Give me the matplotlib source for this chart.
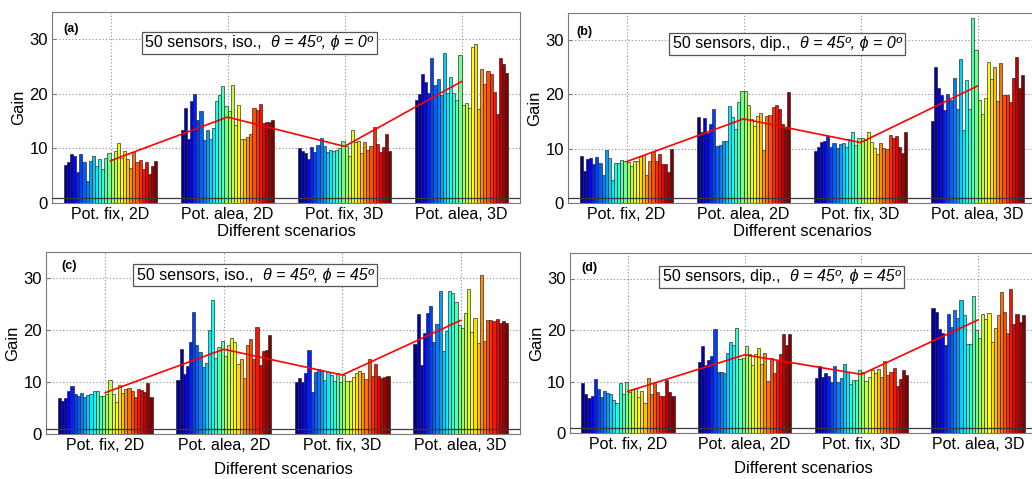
import numpy as np
import matplotlib
matplotlib.use("Agg")
import matplotlib.pyplot as plt
from matplotlib.offsetbox import TextArea, HPacker, AnchoredOffsetbox

plt.rcParams['font.family'] = ['Liberation Sans', 'DejaVu Sans']

categories = ["Pot. fix, 2D", "Pot. alea, 2D", "Pot. fix, 3D", "Pot. alea, 3D"]

# Panel (a)
a_fix2d = [7.0, 7.5, 9.0, 8.6, 5.6, 9.0, 7.6, 4.0, 7.7, 8.7, 6.7, 8.0, 6.3, 8.3, 9.1, 8.0, 9.5, 11.0, 8.2, 9.6, 8.1, 6.5, 9.3, 7.5, 7.8, 6.2, 7.6, 5.4, 6.8, 7.7]
a_alea2d = [13.4, 17.4, 11.8, 18.6, 19.9, 15.2, 16.8, 11.6, 13.4, 11.7, 13.8, 18.6, 19.7, 21.5, 17.7, 16.8, 21.6, 14.3, 18.0, 11.8, 11.8, 12.1, 12.6, 17.4, 17.1, 18.2, 14.7, 14.9, 14.8, 15.2]
a_fix3d = [10.1, 9.6, 9.2, 8.1, 10.2, 9.4, 10.6, 11.9, 10.4, 9.4, 9.7, 9.6, 9.8, 10.1, 11.4, 10.4, 8.7, 13.3, 11.2, 11.3, 9.1, 11.2, 9.8, 10.4, 13.9, 10.8, 9.3, 10.2, 12.6, 9.6]
a_alea3d = [18.8, 20.0, 23.7, 22.1, 20.2, 26.6, 21.7, 22.8, 19.7, 27.4, 20.1, 23.1, 20.1, 18.9, 27.2, 17.9, 18.3, 17.5, 28.6, 29.2, 17.2, 24.6, 21.8, 24.1, 23.7, 20.4, 16.3, 26.6, 25.5, 23.9]

# Panel (b)
b_fix2d = [8.6, 5.9, 8.1, 8.3, 7.1, 8.4, 7.3, 5.2, 9.8, 8.2, 4.3, 7.4, 7.4, 8.0, 7.7, 7.5, 6.8, 7.7, 7.8, 8.6, 8.8, 5.2, 7.8, 9.4, 7.8, 9.1, 7.2, 7.1, 5.7, 9.9]
b_alea2d = [15.9, 13.1, 15.7, 12.9, 14.5, 17.2, 10.4, 10.6, 11.4, 11.4, 17.9, 15.8, 13.6, 18.5, 20.6, 20.6, 18.0, 15.5, 14.1, 16.0, 16.6, 9.8, 16.0, 16.2, 17.6, 18.0, 17.3, 14.6, 13.8, 20.4]
b_fix3d = [9.6, 10.3, 11.2, 11.4, 12.3, 10.3, 11.1, 10.2, 10.9, 11.0, 10.3, 11.7, 13.0, 10.7, 11.9, 11.9, 11.5, 13.1, 11.2, 10.2, 9.1, 11.1, 10.1, 10.0, 12.5, 12.0, 12.3, 10.3, 9.2, 13.1]
b_alea3d = [15.1, 25.0, 21.2, 19.9, 17.1, 20.1, 18.9, 23.0, 17.3, 26.5, 13.4, 22.7, 17.3, 34.0, 28.1, 18.9, 16.4, 19.3, 26.0, 22.8, 25.1, 18.7, 25.7, 19.9, 19.9, 18.5, 23.0, 26.9, 21.2, 23.5]

# Panel (c)
c_fix2d = [6.9, 6.5, 6.9, 8.4, 9.3, 7.7, 7.4, 7.9, 7.1, 7.6, 7.7, 8.3, 8.4, 7.3, 7.4, 7.7, 10.4, 7.8, 6.3, 9.5, 7.9, 8.8, 9.0, 8.4, 7.2, 8.8, 8.6, 8.1, 9.9, 7.1]
c_alea2d = [10.5, 16.5, 11.6, 13.1, 17.8, 23.6, 17.1, 15.8, 12.9, 13.8, 20.1, 25.8, 14.7, 16.8, 17.9, 15.1, 17.1, 18.5, 17.7, 13.5, 14.5, 10.9, 17.2, 18.4, 14.4, 20.6, 13.4, 16.0, 16.3, 19.1]
c_fix3d = [10.0, 10.8, 10.0, 11.7, 16.2, 8.1, 12.0, 12.6, 12.1, 10.4, 11.9, 11.5, 10.2, 11.8, 10.0, 11.4, 10.3, 10.2, 11.0, 11.8, 12.1, 11.7, 10.7, 14.4, 11.2, 13.5, 11.3, 10.8, 11.0, 11.2]
c_alea3d = [17.3, 23.1, 13.4, 19.4, 23.4, 24.7, 17.7, 21.2, 27.5, 16.1, 19.9, 27.5, 27.1, 25.5, 21.0, 20.5, 23.3, 28.0, 19.7, 22.3, 17.6, 30.7, 18.0, 22.0, 22.0, 21.7, 22.1, 21.5, 21.7, 21.5]

# Panel (d)
d_fix2d = [9.8, 7.7, 6.8, 7.3, 10.5, 8.5, 7.0, 8.2, 7.9, 7.6, 6.5, 5.8, 9.7, 7.7, 10.0, 8.1, 8.6, 8.7, 7.1, 8.2, 5.8, 10.8, 7.6, 9.7, 8.1, 7.3, 7.3, 10.3, 8.1, 7.2]
d_alea2d = [13.9, 17.0, 13.2, 14.3, 15.0, 20.3, 11.9, 11.9, 11.6, 15.5, 17.6, 17.2, 20.5, 14.4, 14.5, 17.0, 15.3, 13.2, 15.3, 16.6, 13.4, 15.5, 10.2, 14.6, 11.6, 14.1, 15.3, 19.2, 17.1, 19.2]
d_fix3d = [10.8, 13.0, 11.0, 11.6, 11.2, 10.0, 13.0, 10.0, 10.8, 13.5, 11.8, 9.5, 10.3, 10.3, 12.3, 11.9, 10.2, 11.0, 12.3, 11.6, 12.4, 11.0, 14.1, 11.3, 11.9, 12.6, 9.2, 10.5, 12.3, 11.3]
d_alea3d = [24.3, 23.5, 20.2, 19.4, 17.1, 23.1, 20.6, 23.9, 22.3, 25.8, 22.9, 17.4, 17.4, 26.6, 20.1, 18.4, 23.2, 22.1, 23.4, 17.6, 20.5, 22.9, 27.3, 23.5, 19.4, 27.9, 21.1, 23.1, 21.6, 22.9]

panel_labels = ["(a)", "(b)", "(c)", "(d)"]
box_prefix = ["50 sensors, iso.,", "50 sensors, dip.,", "50 sensors, iso.,", "50 sensors, dip.,"]
box_suffix = ["θ = 45º, ϕ = 0º", "θ = 45º, ϕ = 0º", "θ = 45º, ϕ = 45º", "θ = 45º, ϕ = 45º"]
ref_level = 1.0
yticks = [0, 10, 20, 30]

panels = [
    [a_fix2d, a_alea2d, a_fix3d, a_alea3d],
    [b_fix2d, b_alea2d, b_fix3d, b_alea3d],
    [c_fix2d, c_alea2d, c_fix3d, c_alea3d],
    [d_fix2d, d_alea2d, d_fix3d, d_alea3d],
]


def matlab_jet(m):
    n = int(np.ceil(m / 4))
    u = np.concatenate([np.arange(1, n + 1) / n, np.ones(n - 1), np.arange(n, 0, -1) / n])
    g = int(np.ceil(n / 2)) - (1 if m % 4 == 1 else 0) + np.arange(1, len(u) + 1)
    r = g + n
    b = g - n
    J = np.zeros((m, 3))
    J[r[r <= m] - 1, 0] = u[r <= m]
    J[g[g <= m] - 1, 1] = u[g <= m]
    J[b[b >= 1] - 1, 2] = u[b >= 1]
    return J


W, H = 1032, 479
fig = plt.figure(figsize=(W / 100, H / 100), dpi=100)

rects_px = [
    (52, 12, 520, 203),
    (568, 12.7, 1036, 203),
    (46, 252.3, 520, 434.3),
    (569.5, 252.7, 1036.5, 433.3),
]
box_pos = [(0.1917, 0.897), (0.2165, 0.895), (0.184, 0.934), (0.192, 0.928)]
lab_pos = [(0.024, 0.911), (0.017, 0.896), (0.033, 0.925), (0.025, 0.918)]

grid_col = '#8c8c8c'
spine_col = '#7a7a7a'
fs = 11.5
jet64 = matlab_jet(64)

for k, data in enumerate(panels):
    l, t, r, b = rects_px[k]
    ax = fig.add_axes([l / W, (H - b) / H, (r - l) / W, (b - t) / H])
    arr = np.array(data)  # 4 x N
    ng, ns = arr.shape
    colors = jet64[np.round(np.linspace(0, 63, ns)).astype(int)]
    x = np.arange(1, ng + 1)
    gw = 0.8
    bw = gw / ns
    for i in range(ns):
        off = -gw / 2 + (i + 0.5) * bw
        ax.bar(x + off, arr[:, i], width=bw, color=colors[i],
               edgecolor='#202020', linewidth=0.45, zorder=2)
    ax.axhline(ref_level, color='#3a3a3a', lw=0.9, zorder=3)
    ax.plot(x, arr.mean(axis=1), color='red', lw=1.2, zorder=4)
    ax.set_xlim(0.5, 4.5)
    ax.set_ylim(0, 35)
    ax.set_xticks(x)
    ax.set_xticklabels(categories, fontsize=fs)
    ax.set_yticks(yticks)
    ax.set_yticklabels([str(v) for v in yticks], fontsize=12)
    ax.grid(True, linestyle=(0, (1, 2)), color=grid_col, linewidth=0.8, zorder=0)
    ax.set_axisbelow(True)
    for sp in ax.spines.values():
        sp.set_color(spine_col)
        sp.set_linewidth(0.8)
    ax.tick_params(direction='in', length=3, color=spine_col, pad=3)
    ax.set_xlabel("Different scenarios", fontsize=12, labelpad=1 if k < 2 else 6)
    ax.set_ylabel("Gain", fontsize=12, labelpad=2)
    ax.text(lab_pos[k][0], lab_pos[k][1], panel_labels[k], transform=ax.transAxes,
            fontsize=9, fontweight='bold', va='center', ha='left', zorder=6)
    ta1 = TextArea(box_prefix[k], textprops=dict(fontsize=fs))
    ta2 = TextArea(box_suffix[k], textprops=dict(fontsize=fs, style='italic'))
    pk = HPacker(children=[ta1, ta2], align='baseline', pad=0, sep=7)
    anch = AnchoredOffsetbox(loc='upper left', child=pk, pad=0.25, frameon=True,
                             bbox_to_anchor=box_pos[k], bbox_transform=ax.transAxes,
                             borderpad=0)
    anch.patch.set_edgecolor('#555555')
    anch.patch.set_linewidth(0.9)
    anch.patch.set_facecolor('white')
    anch.set_zorder(7)
    ax.add_artist(anch)

fig.savefig("out.png", dpi=100)
